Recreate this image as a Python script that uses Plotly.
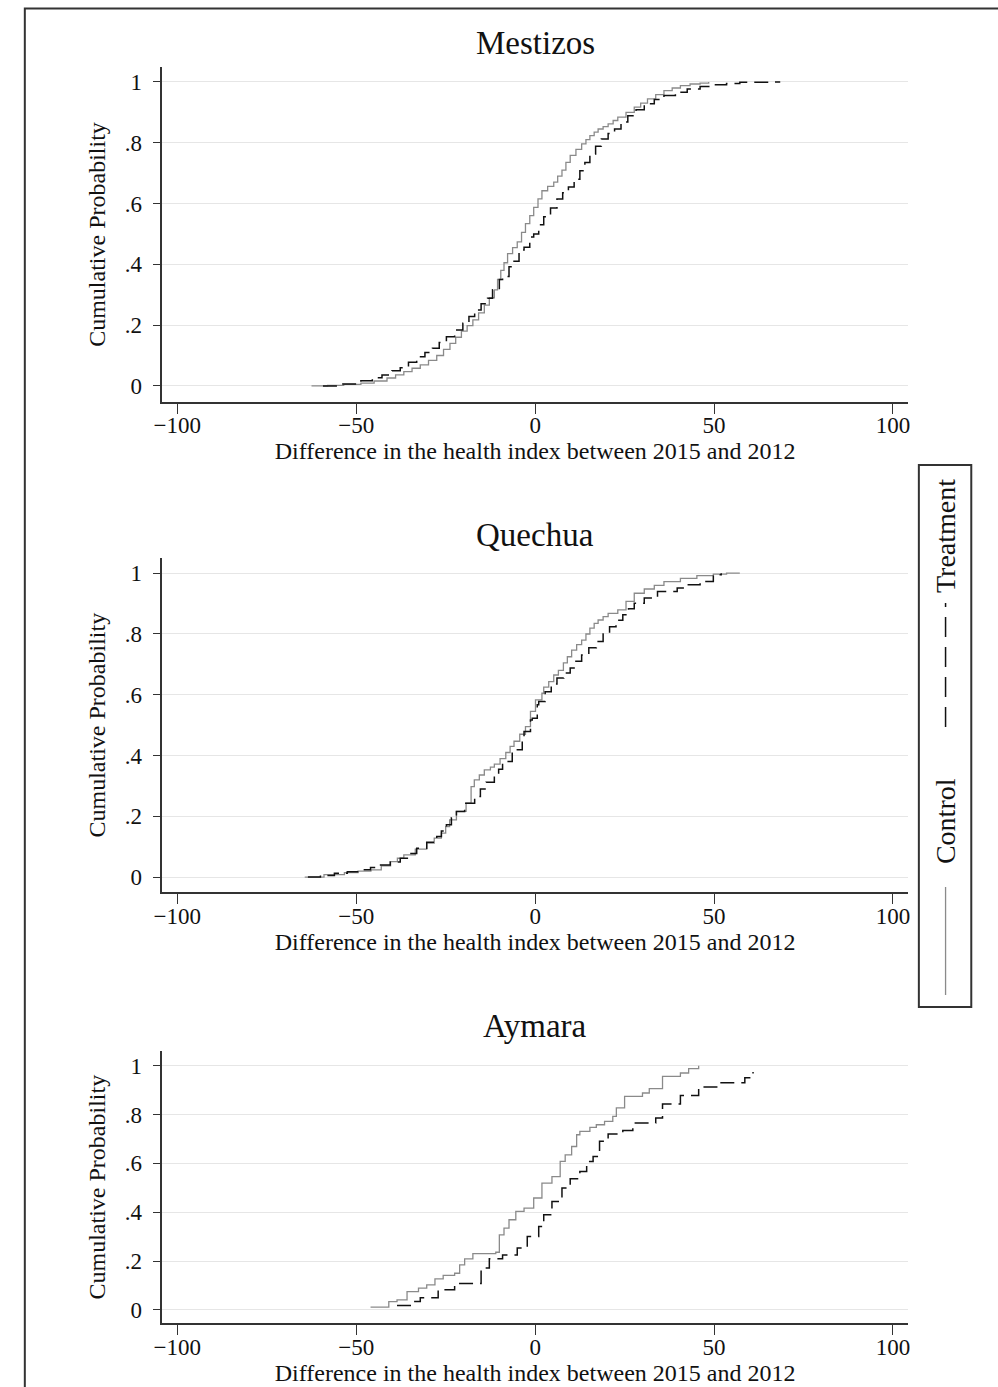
import plotly.graph_objects as go

# ---------------- data ----------------
panel_titles = ["Mestizos", "Quechua", "Aymara"]
series_names = ["Control", "Treatment"]
x_tickvals = [-100, -50, 0, 50, 100]
x_ticktext = ["\u2212100", "\u221250", "0", "50", "100"]
y_tickvals = [0, 0.2, 0.4, 0.6, 0.8, 1]
y_ticktext = ["0", ".2", ".4", ".6", ".8", "1"]

mestizos_control_x = [-62.5, -58.0, -53.5, -48.7, -45.0, -41.4, -39.0, -36.7, -34.4, -32.1,
                      -29.8, -27.5, -25.6, -23.8, -22.2, -20.6, -19.0, -17.4, -15.8, -14.2,
                      -12.8, -11.4, -10.5, -9.6, -8.7, -7.7, -6.3, -5.0, -3.8, -2.7,
                      -1.5, -0.4, 0.8, 1.9, 3.5, 5.2, 6.3, 7.5, 8.6, 9.8,
                      11.4, 13.0, 14.2, 15.3, 16.5, 17.6, 19.0, 20.4, 21.8, 23.1,
                      25.4, 27.7, 29.5, 31.4, 33.7, 36.0, 38.3, 40.6, 43.3, 46.1, 48.5]
mestizos_control_y = [0.0, 0.002, 0.005, 0.009, 0.016, 0.026, 0.036, 0.047, 0.058, 0.069,
                      0.084, 0.10, 0.12, 0.14, 0.16, 0.18, 0.198, 0.217, 0.24, 0.266,
                      0.29, 0.316, 0.35, 0.38, 0.405, 0.435, 0.455, 0.474, 0.505, 0.534,
                      0.56, 0.587, 0.615, 0.642, 0.656, 0.67, 0.69, 0.71, 0.735, 0.758,
                      0.778, 0.796, 0.81, 0.823, 0.835, 0.845, 0.853, 0.862, 0.873, 0.884,
                      0.90, 0.917, 0.93, 0.944, 0.958, 0.971, 0.98, 0.988, 0.993, 0.996, 1.0]

mestizos_treat_x = [-59.3, -54.0, -48.7, -45.5, -42.8, -40.0, -37.7, -35.4, -33.1, -30.8,
                    -28.7, -26.8, -24.8, -22.5, -20.2, -18.5, -16.9, -15.1, -13.3, -11.9,
                    -10.0, -9.1, -7.3, -5.9, -4.5, -3.1, -1.5, -0.4, 1.0, 2.4,
                    4.3, 6.1, 7.7, 9.3, 10.9, 12.5, 13.9, 15.3, 16.9, 18.5,
                    20.4, 22.2, 24.0, 25.9, 28.2, 30.5, 33.3, 36.0, 39.2, 42.5,
                    46.1, 49.8, 53.5, 57.2, 61.8, 66.4, 68.5]
mestizos_treat_y = [0.0, 0.006, 0.017, 0.027, 0.036, 0.05, 0.06, 0.078, 0.096, 0.11,
                    0.124, 0.143, 0.162, 0.184, 0.206, 0.228, 0.25, 0.27, 0.288, 0.316,
                    0.35, 0.36, 0.392, 0.41, 0.447, 0.456, 0.49, 0.50, 0.53, 0.556,
                    0.585, 0.615, 0.635, 0.654, 0.68, 0.708, 0.735, 0.763, 0.788, 0.812,
                    0.83, 0.845, 0.868, 0.889, 0.908, 0.928, 0.942, 0.955, 0.966, 0.977,
                    0.985, 0.991, 0.995, 0.999, 0.999, 1.0, 1.0]

quechua_control_x = [-64.4, -59.0, -53.3, -49.5, -45.9, -43.0, -40.4, -38.5, -36.7, -33.5,
                     -30.3, -28.2, -26.2, -25.0, -23.9, -22.0, -19.3, -17.9, -17.0, -15.6,
                     -14.2, -12.5, -11.4, -9.8, -8.2, -7.0, -5.9, -4.3, -2.7, -1.3,
                     0.1, 1.9, 2.4, 3.8, 5.2, 6.5, 7.9, 9.0, 10.2, 11.6,
                     13.0, 14.2, 15.3, 16.5, 17.6, 19.0, 20.4, 23.1, 25.4, 27.7,
                     30.5, 33.3, 36.0, 40.6, 45.2, 49.8, 53.5, 57.2]
quechua_control_y = [0.0, 0.008, 0.015, 0.02, 0.024, 0.037, 0.051, 0.062, 0.073, 0.092,
                     0.112, 0.128, 0.145, 0.166, 0.188, 0.216, 0.243, 0.298, 0.32, 0.336,
                     0.353, 0.362, 0.372, 0.39, 0.41, 0.43, 0.447, 0.47, 0.495, 0.545,
                     0.583, 0.605, 0.625, 0.643, 0.665, 0.68, 0.705, 0.725, 0.747, 0.765,
                     0.78, 0.80, 0.819, 0.835, 0.846, 0.857, 0.868, 0.879, 0.907, 0.934,
                     0.948, 0.96, 0.972, 0.983, 0.992, 0.997, 1.0, 1.0]

quechua_treat_x = [-63.5, -60.0, -56.1, -52.5, -48.7, -46.0, -43.2, -40.5, -37.7, -35.4,
                   -33.1, -30.3, -27.5, -26.2, -24.8, -23.4, -22.0, -19.7, -16.9, -15.3,
                   -13.7, -11.4, -10.2, -9.1, -8.2, -6.4, -5.4, -3.6, -3.1, -1.3,
                   -0.8, 0.6, 1.0, 2.8, 4.5, 6.1, 8.0, 9.8, 11.4, 13.0,
                   15.0, 17.1, 19.0, 20.8, 22.6, 24.5, 26.1, 27.7, 30.5, 34.2,
                   39.7, 42.5, 46.1, 49.8, 52.0]
quechua_treat_y = [0.0, 0.005, 0.013, 0.018, 0.024, 0.032, 0.04, 0.05, 0.062, 0.078,
                   0.095, 0.115, 0.134, 0.152, 0.172, 0.195, 0.216, 0.243, 0.265, 0.29,
                   0.312, 0.334, 0.355, 0.375, 0.38, 0.413, 0.419, 0.457, 0.479, 0.517,
                   0.523, 0.567, 0.578, 0.61, 0.635, 0.655, 0.672, 0.688, 0.71, 0.731,
                   0.755, 0.775, 0.80, 0.824, 0.845, 0.863, 0.883, 0.901, 0.918, 0.94,
                   0.951, 0.962, 0.973, 0.995, 1.0]

aymara_control_x = [-46.0, -40.9, -38.6, -35.8, -32.6, -30.3, -28.0, -25.7, -22.5, -21.1,
                    -19.7, -17.4, -11.0, -10.0, -8.7, -7.3, -5.4, -3.1, -0.4, 1.9,
                    4.7, 7.0, 8.4, 10.2, 11.6, 12.5, 15.3, 17.1, 19.4, 21.7,
                    22.7, 25.0, 30.0, 31.9, 35.6, 40.6, 42.9, 45.7]
aymara_control_y = [0.011, 0.034, 0.041, 0.075, 0.089, 0.102, 0.127, 0.141, 0.15, 0.184,
                    0.209, 0.23, 0.236, 0.307, 0.335, 0.369, 0.403, 0.417, 0.458, 0.519,
                    0.546, 0.608, 0.635, 0.669, 0.717, 0.731, 0.747, 0.758, 0.772, 0.792,
                    0.827, 0.874, 0.888, 0.906, 0.956, 0.97, 0.988, 1.0]

aymara_treat_x = [-38.6, -34.9, -32.1, -27.1, -22.5, -15.1, -12.8, -9.1, -5.0, -2.2,
                  1.0, 2.4, 4.7, 7.5, 9.8, 12.5, 14.4, 16.2, 18.0, 20.4,
                  24.5, 27.3, 33.7, 35.6, 40.6, 45.7, 51.7, 58.6, 60.9]
aymara_treat_y = [0.018, 0.034, 0.05, 0.082, 0.108, 0.171, 0.209, 0.225, 0.253, 0.30,
                  0.341, 0.389, 0.444, 0.499, 0.537, 0.567, 0.608, 0.628, 0.69, 0.72,
                  0.734, 0.765, 0.786, 0.843, 0.878, 0.913, 0.93, 0.95, 0.974]

panels = [
    (mestizos_control_x, mestizos_control_y, mestizos_treat_x, mestizos_treat_y),
    (quechua_control_x, quechua_control_y, quechua_treat_x, quechua_treat_y),
    (aymara_control_x, aymara_control_y, aymara_treat_x, aymara_treat_y),
]
for a, b, c, d in panels:
    assert len(a) == len(b) and len(c) == len(d)

# ---------------- layout geometry ----------------
W, H = 998, 1387
FONT = "Liberation Serif, Times New Roman, serif"
TXT = "#111111"
GRAY = "#8a8a8a"
DARK = "#111111"


def py(p):  # pixel (from top) -> paper
    return 1 - p / H


def px(p):
    return p / W


x_dom = [px(155), px(909)]
y_doms = [[py(402), py(67)], [py(892.3), py(558)], [py(1323.3), py(1051)]]
y_ranges = [[-0.053, 1.049], [-0.05, 1.05], [-0.055, 1.06]]
title_y = [43, 535, 1026]

fig = go.Figure()
layout_axes = {}
for i, (cx, cy, tx, ty) in enumerate(panels):
    n = "" if i == 0 else str(i + 1)
    fig.add_trace(go.Scatter(x=cx, y=cy, mode="lines", line=dict(shape="hv", color=GRAY, width=1.3),
                             name=series_names[0], xaxis="x" + n, yaxis="y" + n, showlegend=False))
    fig.add_trace(go.Scatter(x=tx, y=ty, mode="lines",
                             line=dict(shape="hv", color=DARK, width=1.5, dash="14px,7px"),
                             name=series_names[1], xaxis="x" + n, yaxis="y" + n, showlegend=False))
    layout_axes["xaxis" + n] = dict(
        domain=x_dom, anchor="y" + n, range=[-104.2, 104.2],
        tickvals=x_tickvals, ticktext=x_ticktext, ticks="outside", ticklen=10, tickwidth=1.3,
        tickcolor="#333333", showline=True, linecolor="#333333", linewidth=1.5,
        ticklabelstandoff=-8,
        showgrid=False, zeroline=False, tickfont=dict(family=FONT, size=23, color=TXT),
        title=dict(text="Difference in the health index between 2015 and 2012",
                   font=dict(family=FONT, size=24, color=TXT), standoff=2),
    )
    layout_axes["yaxis" + n] = dict(
        domain=y_doms[i], anchor="x" + n, range=y_ranges[i],
        tickvals=y_tickvals, ticktext=y_ticktext, ticks="outside", ticklen=8, tickwidth=1.3,
        tickcolor="#333333", showline=True, linecolor="#333333", linewidth=1.5,
        ticklabelstandoff=6,
        showgrid=True, gridcolor="#e6e6e6", gridwidth=1.2, zeroline=False,
        tickfont=dict(family=FONT, size=23, color=TXT),
        title=dict(text="Cumulative Probability", font=dict(family=FONT, size=24, color=TXT), standoff=12),
    )

annotations = []
for i, t in enumerate(panel_titles):
    annotations.append(dict(text=t, x=px(532), y=py(title_y[i]), xref="paper", yref="paper",
                            xanchor="center", yanchor="middle", showarrow=False,
                            font=dict(family=FONT, size=33, color=TXT)))

# legend (rotated, drawn manually)
leg_x = px(947)
annotations.append(dict(text=series_names[1], x=leg_x, y=py(536.5), xref="paper", yref="paper",
                        textangle=-90, xanchor="center", yanchor="middle", showarrow=False,
                        font=dict(family=FONT, size=28, color=TXT)))
annotations.append(dict(text=series_names[0], x=leg_x, y=py(821.5), xref="paper", yref="paper",
                        textangle=-90, xanchor="center", yanchor="middle", showarrow=False,
                        font=dict(family=FONT, size=28, color=TXT)))

shapes = [
    # outer frame
    dict(type="rect", xref="paper", yref="paper", x0=px(16), x1=1.02, y0=-0.02, y1=py(8.5),
         line=dict(color="#333333", width=2), fillcolor="rgba(0,0,0,0)"),
    # legend box
    dict(type="rect", xref="paper", yref="paper", x0=px(920), x1=px(973), y0=py(1007), y1=py(465),
         line=dict(color="#333333", width=2), fillcolor="white"),
    dict(type="line", xref="paper", yref="paper", x0=leg_x, x1=leg_x, y0=py(727), y1=py(603),
         line=dict(color=DARK, width=1.5, dash="20px,10px")),
    dict(type="line", xref="paper", yref="paper", x0=leg_x, x1=leg_x, y0=py(995), y1=py(887),
         line=dict(color=GRAY, width=1.3)),
]

fig.update_layout(
    width=W, height=H, margin=dict(l=0, r=0, t=0, b=0),
    paper_bgcolor="white", plot_bgcolor="white", showlegend=False,
    font=dict(family=FONT, color=TXT),
    annotations=annotations, shapes=shapes, **layout_axes,
)

fig.write_html("out.html")
